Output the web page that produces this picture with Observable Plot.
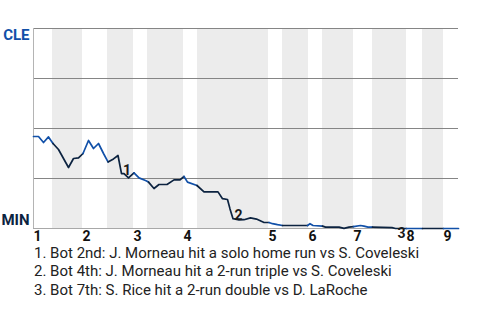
<!DOCTYPE html>
<html><head><meta charset="utf-8">
<script src="https://cdn.jsdelivr.net/npm/d3@7"></script>
<script src="https://cdn.jsdelivr.net/npm/@observablehq/plot@0.6"></script>
<style>
body{margin:0;background:#fff;font-family:Roboto,sans-serif;}
svg{display:block}
#notes{padding-left:34px;font-size:15px;line-height:18.3px;color:#222;white-space:nowrap}
</style></head><body>
<div id="chart"></div>
<div id="notes"></div>
<script>
// event index along the game (x) and Cleveland win probability % (y)
const eventIndex = [0,1,2,3,3.9,5,6,7,8,9,9.9,11,12,13,14,14.9,16,16.9,17.6,18.1,19,20.1,21.1,22.4,23,24.1,25.1,26.7,28.1,29.3,30.1,30.8,32.7,34.1,36.9,37.8,38.8,39.3,39.9,41.1,42.1,43.4,44.6,46.1,47.1,47.8,48.8,49.8,52.4,54.8,55.3,55.9,57.8,58.4,61.1,62.1,63.1,64,65.4,66.1,66.9,67.8,71.7,72.4,74.6,77.8,82,85];
const cleWinPct = [46,46,43,45.8,42.5,39.5,35,30.5,35,35.3,37.5,44,40,42.5,37.5,33.3,34.8,36.5,27.4,27.4,25.3,27.8,25.3,24,23.2,20,22,22,24.3,24.3,26,23.2,21.5,18.3,18.3,14.9,14.5,9.8,4.9,4.3,4.4,5.3,4.7,3,3,2.4,1.9,1.5,1.5,1.5,2.4,1.5,1.2,0.7,0.7,0.1,0.7,0.9,1.5,1.2,0.7,0.7,0.4,0,0,0,0,0];
// half-inning boundaries on the event axis (top 1st, bot 1st, top 2nd, ...)
const halfBounds = [0,3.8,9.8,14.8,20,22.8,30,32.8,47,49.8,55,57.8,64,67.8,74.6,77.8,82,85];
const inningLabels = ["1","2","3","4","5","6","7","8","9"];
const teams = ["CLE","MIN"];
const teamColors = ["#1150a8","#0c2340"];
const markerEvents = [17.6, 39.9, 72.4];
const markerLabels = ["1","2","3"];
const eventNotes = [
  "Bot 2nd: J. Morneau hit a solo home run vs S. Coveleski",
  "Bot 4th: J. Morneau hit a 2-run triple vs S. Coveleski",
  "Bot 7th: S. Rice hit a 2-run double vs D. LaRoche"
];

function halfOf(u){
  for (let h = 0; h < halfBounds.length - 1; h++) if (u >= halfBounds[h] && u < halfBounds[h+1]) return h;
  return halfBounds.length - 2;
}
// build line groups, one per run of segments inside the same half inning
const lineRows = [];
let g = -1, prevH = -1;
for (let i = 0; i < eventIndex.length - 1; i++) {
  const h = halfOf((eventIndex[i] + eventIndex[i+1]) / 2);
  const team = teams[h % 2];
  if (h !== prevH) { g++; prevH = h; lineRows.push({u: eventIndex[i], v: cleWinPct[i], g, team}); }
  lineRows.push({u: eventIndex[i+1], v: cleWinPct[i+1], g, team});
}
const bands = [];
for (let h = 1; h < halfBounds.length - 1; h += 2) bands.push({x1: halfBounds[h], x2: halfBounds[h+1]});
const innings = inningLabels.map((t, k) => ({u: halfBounds[2*k], t}));
const markers = markerEvents.map((u, k) => ({u, v: cleWinPct[eventIndex.indexOf(u)], t: markerLabels[k]}));

const plot = Plot.plot({
  width: 480, height: 244,
  marginLeft: 33, marginRight: 22, marginTop: 28, marginBottom: 16,
  x: {domain: [0, 85], axis: null},
  y: {domain: [0, 100], axis: null},
  color: {domain: teams, range: teamColors},
  style: {fontFamily: "Roboto, sans-serif", background: "#fff"},
  marks: [
    Plot.rect(bands, {x1: "x1", x2: "x2", y1: 0, y2: 100, fill: "#ececec"}),
    Plot.ruleY([25, 50, 75, 100], {stroke: "#858585", strokeWidth: 1.2}),
    Plot.ruleY([0], {stroke: "#a8a8a8", strokeWidth: 1.2}),
    Plot.ruleX([0], {y1: 0, y2: 100, stroke: "#b4b4b4"}),
    Plot.line(lineRows, {x: "u", y: "v", z: "g", stroke: "team", strokeWidth: 1.7}),
    Plot.text(markers.slice(0, 2), {x: "u", y: "v", text: "t", textAnchor: "start", lineAnchor: "bottom", dx: 1.5, dy: 1, fontWeight: "bold", fontSize: 14, fill: "#1a1a1a"}),
    Plot.text(markers.slice(2), {x: "u", y: "v", text: "t", textAnchor: "start", lineAnchor: "bottom", dx: 2, dy: 9, fontWeight: "bold", fontSize: 14, fill: "#1a1a1a"}),
    Plot.text(innings, {x: "u", y: 0, text: "t", textAnchor: "start", dy: 8.5, fontWeight: "bold", fontSize: 14, fill: "#111"}),
    Plot.text([teams[0]], {x: 0, y: 100, text: d => d, fill: d => d, textAnchor: "end", dx: -4, dy: 6.5, fontWeight: "bold", fontSize: 15}),
    Plot.text([teams[1]], {x: 0, y: 0, text: d => d, fill: d => d, textAnchor: "end", dx: -4, dy: -8.5, fontWeight: "bold", fontSize: 15})
  ]
});
document.getElementById("chart").appendChild(plot);
document.getElementById("notes").innerHTML = eventNotes.map((n, k) => `<div>${markerLabels[k]}. ${n}</div>`).join("");
</script>
</body></html>
